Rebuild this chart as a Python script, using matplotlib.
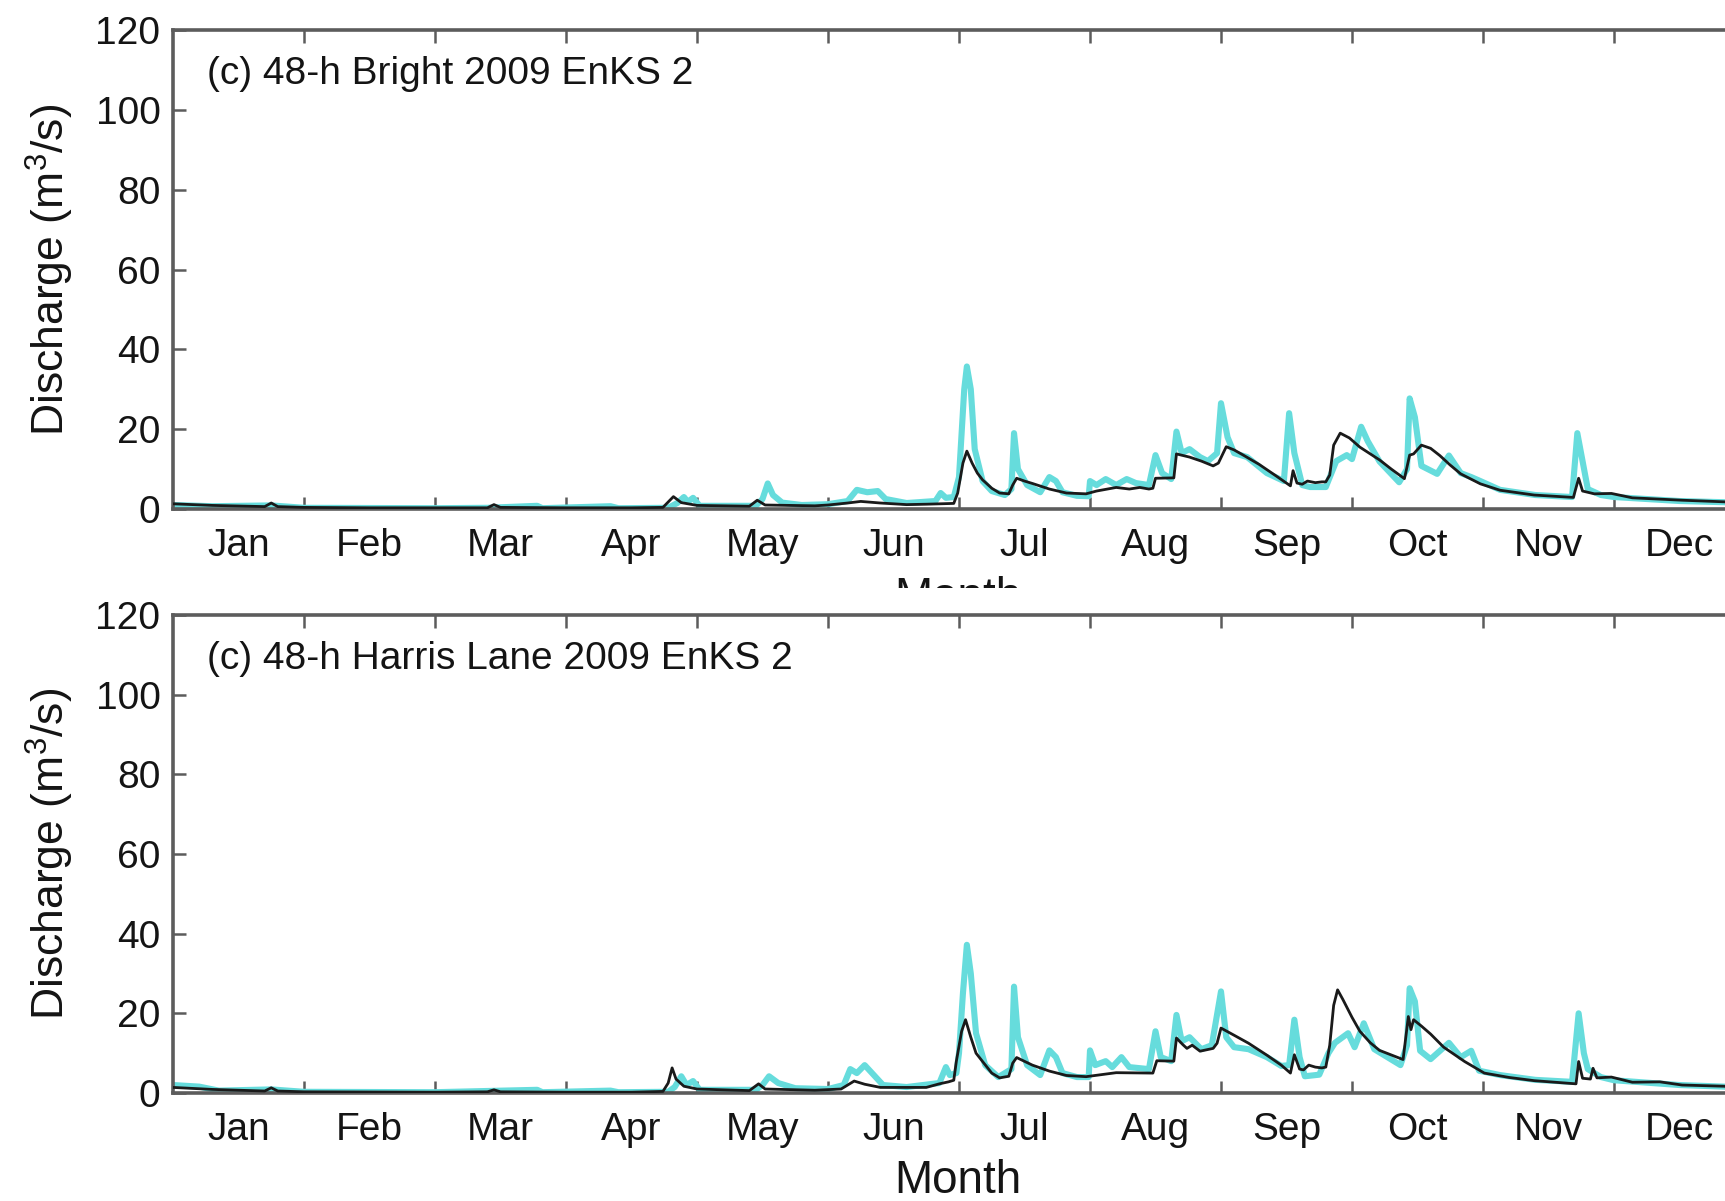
import matplotlib
matplotlib.use("Agg")
import matplotlib.pyplot as plt
from matplotlib.transforms import Bbox

plt.rcParams["font.family"] = ["Liberation Sans", "DejaVu Sans"]
plt.rcParams["mathtext.fontset"] = "custom"
plt.rcParams["mathtext.rm"] = "Liberation Sans"
plt.rcParams["mathtext.it"] = "Liberation Sans:italic"

# Month labels (x axis in month units, 0 = 1 Jan)
months = ["Jan", "Feb", "Mar", "Apr", "May", "Jun",
          "Jul", "Aug", "Sep", "Oct", "Nov", "Dec"]
y_ticks = [0, 20, 40, 60, 80, 100, 120]

# ---- Bright: simulated discharge (EnKS mean) ----
bright_sim_t = [0.0, 0.3, 0.7, 0.75, 0.8, 1.0, 1.5, 2.0, 2.4, 2.45, 2.5, 3.0, 3.5,
                3.74, 3.82, 3.88, 4.0, 4.4, 4.46, 4.52, 4.9, 5.0, 5.15, 5.25, 5.4,
                5.6, 5.75, 5.96, 5.99, 6.03, 6.06, 6.1, 6.14, 6.18, 6.25, 6.31, 6.38,
                6.41, 6.44, 6.5, 6.56, 6.69, 6.82, 6.97, 7.05, 7.2, 7.3, 7.38,
                7.45, 7.48, 7.5, 7.64, 7.66, 7.76, 7.85, 7.94, 7.98, 8.04, 8.1, 8.17,
                8.29, 8.42, 8.53, 8.55, 8.58, 8.62, 8.66, 8.72, 8.77, 8.8, 8.83,
                8.86, 8.91, 8.98, 9.06, 9.21, 9.3, 9.4, 9.44, 9.47, 9.53, 9.6, 9.67,
                9.75, 9.83, 9.98, 10.13, 10.39, 10.69, 10.73, 10.76, 10.85, 10.98,
                11.14, 11.52, 11.84, 12.0]
bright_sim_q = [1.3, 0.9, 0.6, 1.5, 0.6, 0.4, 0.3, 0.3, 0.3, 1.1, 0.4, 0.3, 0.3,
                0.4, 3.1, 1.6, 0.9, 0.7, 2.2, 1.0, 0.8, 1.0, 1.5, 1.9, 1.5,
                1.1, 1.2, 1.4, 4.0, 11.5, 14.5, 11.5, 9.0, 7.3, 5.2, 4.0, 3.8,
                6.0, 7.7, 7.0, 6.4, 5.0, 4.0, 3.8, 4.5, 5.4, 5.0, 5.4,
                5.0, 5.2, 7.7, 7.8, 13.8, 13.0, 12.0, 10.8, 11.5, 15.6, 14.8, 13.5,
                11.2, 8.3, 5.8, 9.6, 6.5, 6.2, 7.0, 6.6, 6.8, 6.8, 8.5,
                16.0, 19.0, 17.8, 15.5, 12.3, 10.0, 7.6, 13.5, 13.8, 16.0, 15.2, 13.4,
                11.0, 8.8, 6.3, 4.7, 3.5, 2.9, 7.7, 4.5, 3.8, 3.9,
                2.8, 2.2, 1.8, 1.4]

# ---- Bright: ensemble members ----
bright_ens_t = [0.0, 0.3, 0.75, 1.0, 2.0, 2.4, 2.78, 2.82, 3.34, 3.4, 3.78, 3.85,
                3.9, 3.93, 3.97, 4.02, 4.45, 4.5, 4.54, 4.58, 4.65, 4.8, 5.0,
                5.15, 5.22, 5.3, 5.38, 5.44, 5.6, 5.82, 5.86, 5.9, 5.96, 6.0,
                6.04, 6.06, 6.09, 6.12, 6.18, 6.25, 6.35, 6.4, 6.42, 6.45, 6.52,
                6.62, 6.69, 6.74, 6.79, 6.9, 6.99, 7.0, 7.05, 7.12, 7.2, 7.28,
                7.35, 7.45, 7.5, 7.55, 7.62, 7.66, 7.7, 7.76, 7.84, 7.9, 7.97,
                8.0, 8.05, 8.1, 8.2, 8.35, 8.48, 8.52, 8.56, 8.62, 8.68, 8.8,
                8.88, 8.96, 9.0, 9.07, 9.12, 9.21, 9.36, 9.42, 9.44, 9.48, 9.53,
                9.65, 9.74, 9.83, 9.91, 9.98, 10.13, 10.4, 10.68, 10.72, 10.76,
                10.8, 10.9, 11.0, 11.5, 11.84, 12.0]
bright_ens_q = [1.0, 0.7, 0.9, 0.3, 0.2, 0.3, 0.8, 0.2, 0.7, 0.2, 0.3, 1.5,
                3.0, 1.8, 2.8, 0.8, 0.8, 2.5, 6.4, 3.5, 1.6, 1.0, 1.2,
                2.0, 4.8, 4.2, 4.5, 2.5, 1.5, 2.0, 4.0, 2.8, 3.0, 8.0,
                30.0, 35.7, 30.0, 15.0, 7.0, 4.5, 3.5, 5.0, 19.0, 10.0, 6.0,
                4.2, 8.0, 7.0, 4.2, 3.3, 3.2, 7.0, 6.0, 7.5, 6.0, 7.5,
                6.5, 6.0, 13.5, 9.0, 7.5, 19.4, 14.0, 15.0, 13.0, 12.0, 14.0,
                26.5, 18.0, 14.0, 13.0, 9.0, 7.0, 24.0, 14.0, 6.0, 5.5, 5.5,
                12.0, 13.5, 12.5, 20.6, 17.0, 11.9, 6.7, 10.0, 27.7, 23.0, 10.8,
                8.8, 13.4, 9.0, 8.0, 7.0, 4.8, 3.5, 3.0, 19.0, 12.0,
                5.0, 3.5, 3.0, 2.0, 1.7, 1.4]

# ---- Harris Lane: simulated discharge (EnKS mean) ----
harris_sim_t = [0.0, 0.3, 0.7, 0.75, 0.8, 1.0, 2.0, 2.4, 2.45, 2.5, 3.0, 3.5,
                3.74, 3.78, 3.81, 3.84, 3.9, 4.0, 4.4, 4.47, 4.52, 4.9, 5.1,
                5.2, 5.28, 5.4, 5.75, 5.85, 5.92, 5.96, 5.98, 6.02, 6.05, 6.09,
                6.13, 6.18, 6.25, 6.31, 6.38, 6.41, 6.44, 6.56, 6.69, 6.82, 6.97, 7.2,
                7.48, 7.51, 7.64, 7.66, 7.71, 7.74, 7.78, 7.84, 7.94, 7.97, 8.0,
                8.1, 8.21, 8.35, 8.46, 8.53, 8.56, 8.6, 8.63, 8.67, 8.72, 8.77,
                8.8, 8.83, 8.86, 8.89, 8.93, 9.0, 9.06, 9.14, 9.21, 9.39, 9.43, 9.45,
                9.47, 9.53, 9.6, 9.7, 9.86, 10.01, 10.2, 10.39, 10.71, 10.73, 10.76,
                10.82, 10.84, 10.87, 10.98, 11.14, 11.35, 11.52, 11.84, 12.0]
harris_sim_q = [1.4, 0.9, 0.5, 1.3, 0.5, 0.3, 0.2, 0.3, 0.8, 0.3, 0.2, 0.2,
                0.4, 2.5, 6.3, 3.5, 1.7, 1.0, 0.6, 2.3, 1.0, 0.7, 1.0,
                3.0, 2.2, 1.4, 1.4, 2.3, 2.8, 3.2, 8.0, 15.5, 18.4, 14.0,
                10.0, 7.9, 5.0, 3.8, 4.2, 7.5, 8.9, 7.0, 5.5, 4.4, 4.1, 5.1,
                5.0, 8.1, 8.0, 13.8, 12.1, 11.2, 12.0, 10.5, 11.2, 12.5, 16.3,
                14.5, 12.5, 9.5, 7.0, 5.0, 9.6, 6.0, 5.8, 7.0, 6.5, 6.3,
                6.5, 12.0, 22.0, 25.9, 23.5, 19.0, 15.5, 12.6, 10.7, 8.4, 19.2, 15.9,
                18.4, 16.8, 14.8, 11.5, 7.9, 5.0, 3.9, 3.1, 2.3, 7.9, 3.7,
                3.5, 6.2, 3.8, 4.0, 2.7, 2.8, 2.0, 1.7, 1.2]

# ---- Harris Lane: ensemble members ----
harris_ens_t = [0.0, 0.2, 0.35, 0.75, 1.0, 2.0, 2.78, 2.82, 3.34, 3.4, 3.78, 3.83,
                3.88, 3.92, 3.97, 4.02, 4.45, 4.5, 4.55, 4.62, 4.75, 5.0, 5.12,
                5.17, 5.22, 5.28, 5.35, 5.42, 5.6, 5.85, 5.9, 5.93, 5.98, 6.0,
                6.03, 6.06, 6.09, 6.13, 6.2, 6.3, 6.4, 6.42, 6.45, 6.52, 6.62,
                6.69, 6.74, 6.79, 6.9, 6.99, 7.0, 7.04, 7.12, 7.17, 7.24, 7.3,
                7.45, 7.5, 7.54, 7.62, 7.66, 7.7, 7.76, 7.85, 7.93, 8.0, 8.04,
                8.1, 8.21, 8.35, 8.46, 8.52, 8.56, 8.6, 8.64, 8.75, 8.82, 8.87,
                8.97, 9.02, 9.09, 9.17, 9.37, 9.42, 9.44, 9.48, 9.52, 9.6, 9.74,
                9.83, 9.91, 9.97, 10.13, 10.4, 10.68, 10.73, 10.77, 10.8, 10.9,
                11.0, 11.5, 11.84, 12.0]
harris_ens_q = [2.0, 1.6, 0.6, 0.9, 0.3, 0.2, 0.8, 0.2, 0.6, 0.2, 0.3, 1.5,
                4.2, 2.0, 3.0, 0.8, 0.8, 2.0, 4.2, 2.5, 1.2, 1.0, 2.0,
                6.0, 5.0, 7.0, 4.5, 2.0, 1.5, 2.5, 6.5, 4.5, 5.0, 10.0,
                25.0, 37.2, 30.0, 15.0, 7.0, 4.0, 6.0, 26.7, 14.0, 7.0, 4.5,
                10.7, 9.0, 5.0, 4.0, 4.0, 10.7, 7.0, 8.0, 6.5, 9.0, 6.5,
                6.0, 15.5, 9.0, 8.0, 19.6, 13.0, 14.0, 11.0, 12.0, 25.5, 14.0,
                11.5, 11.0, 9.0, 6.8, 7.0, 18.4, 9.0, 4.2, 4.6, 10.0, 12.6,
                15.0, 11.5, 17.5, 11.0, 7.0, 12.0, 26.3, 23.0, 10.6, 8.5, 12.6,
                9.0, 10.6, 5.6, 4.5, 3.3, 2.8, 20.0, 10.0, 6.0, 4.0,
                3.2, 2.0, 1.6, 1.3]

panels = [
    ("(c) 48-h Bright 2009 EnKS 2", bright_ens_t, bright_ens_q, bright_sim_t, bright_sim_q),
    ("(c) 48-h Harris Lane 2009 EnKS 2", harris_ens_t, harris_ens_q, harris_sim_t, harris_sim_q),
]

W, H = 1725, 1201
fig = plt.figure(figsize=(W / 100, H / 100), dpi=100)
fig.patch.set_facecolor("white")

ax_left = 173
ax_width = 1572          # the last month runs slightly past the right edge
ax_boxes = [(30, 509), (615, 1093)]   # (top, bottom) in pixels from the top

ENS_COLOR = "#66dcdc"
SPINE = "#5c5c5c"
TXT = "#141414"
FS = 28

for (label, et, eq, st, sq), (top, bot) in zip(panels, ax_boxes):
    ax = fig.add_axes([ax_left / W, (H - bot) / H, ax_width / W, (bot - top) / H])
    ax.plot(et, eq, color=ENS_COLOR, lw=4.4, solid_joinstyle="round", zorder=2)
    ax.plot(st, sq, color="#1a1a1a", lw=2.0, zorder=3)
    ax.set_xlim(0, 12)
    ax.set_ylim(0, 120)
    ax.set_yticks(y_ticks)
    ax.set_xticks(range(1, 12))
    ax.set_xticklabels([])
    ax.set_xticks([m + 0.5 for m in range(12)], minor=True)
    ax.set_xticklabels(months, minor=True, fontsize=FS, color=TXT)
    ax.tick_params(axis="x", which="minor", length=0, pad=14)
    ax.tick_params(axis="x", which="major", direction="in", length=9,
                   width=1.8, color=SPINE, top=True)
    ax.tick_params(axis="y", direction="in", length=9, width=1.8,
                   color=SPINE, labelsize=FS, labelcolor=TXT, pad=9)
    for sp in ax.spines.values():
        sp.set_color(SPINE)
        sp.set_linewidth(2.6)
    ax.text(0.0216, 0.908, label, transform=ax.transAxes, fontsize=FS,
            ha="left", va="center", color=TXT)
    ycen = (H - (top + bot) / 2) / H
    fig.text(50 / W, ycen, "Discharge (m$^3$/s)", rotation=90, fontsize=32,
             ha="center", va="center", color=TXT)

# x-axis titles; the upper one is cut off by the lower panel's frame area
top_month = fig.text(958 / W, (H - 598) / H, "Month", fontsize=33,
                     ha="center", va="center", color=TXT)
top_month.set_clip_box(Bbox.from_extents(0, H - 588, W, H))
top_month.set_clip_on(True)
fig.text(958 / W, (H - 1181) / H, "Month", fontsize=33,
         ha="center", va="center", color=TXT)

fig.savefig("out.png", dpi=100, facecolor="white")
